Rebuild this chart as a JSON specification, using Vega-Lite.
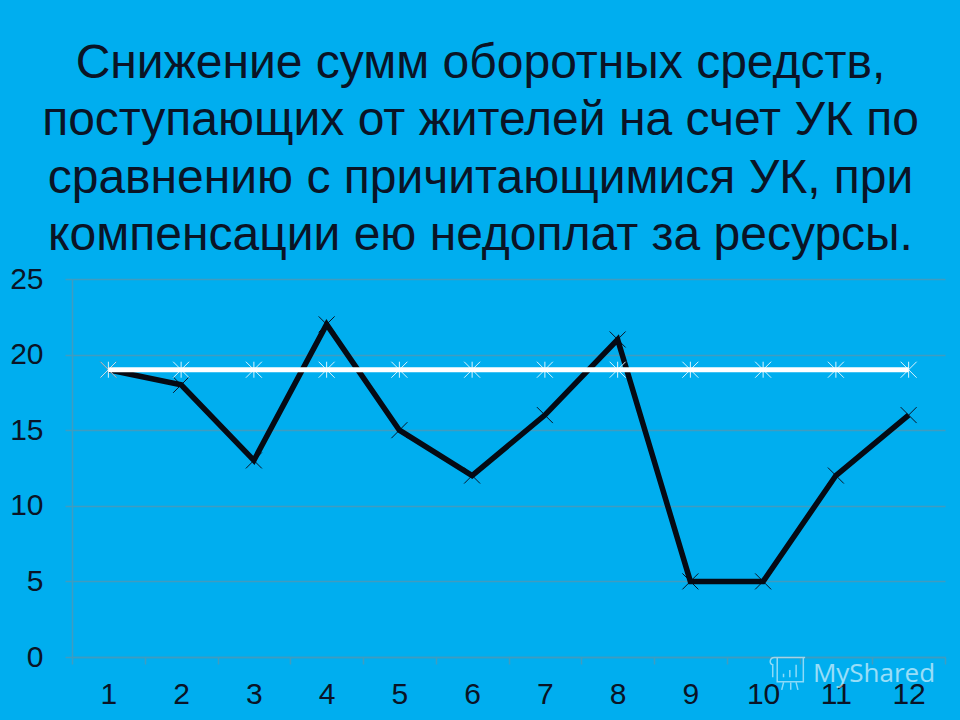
{
  "$schema": "https://vega.github.io/schema/vega-lite/v6.json",
  "autosize": "none",
  "padding": {"left": 72, "top": 279, "right": 15, "bottom": 63},
  "width": 873,
  "height": 378,
  "background": "#00aeef",
  "config": {"view": {"stroke": null}},
  "title": {
    "text": [
      "Снижение сумм оборотных средств,",
      "поступающих от жителей на счет УК по",
      "сравнению с причитающимися УК, при",
      "компенсации ею недоплат за ресурсы."
    ],
    "font": "Liberation Sans",
    "fontSize": 48,
    "fontWeight": "normal",
    "color": "#0a1426",
    "lineHeight": 57.5,
    "anchor": "middle",
    "dx": -28,
    "offset": 4
  },
  "datasets": {
    "series": [
      {"month": 1, "series": "fact", "value": 19},
      {"month": 2, "series": "fact", "value": 18},
      {"month": 3, "series": "fact", "value": 13},
      {"month": 4, "series": "fact", "value": 22},
      {"month": 5, "series": "fact", "value": 15},
      {"month": 6, "series": "fact", "value": 12},
      {"month": 7, "series": "fact", "value": 16},
      {"month": 8, "series": "fact", "value": 21},
      {"month": 9, "series": "fact", "value": 5},
      {"month": 10, "series": "fact", "value": 5},
      {"month": 11, "series": "fact", "value": 12},
      {"month": 12, "series": "fact", "value": 16},
      {"month": 1, "series": "due", "value": 19},
      {"month": 2, "series": "due", "value": 19},
      {"month": 3, "series": "due", "value": 19},
      {"month": 4, "series": "due", "value": 19},
      {"month": 5, "series": "due", "value": 19},
      {"month": 6, "series": "due", "value": 19},
      {"month": 7, "series": "due", "value": 19},
      {"month": 8, "series": "due", "value": 19},
      {"month": 9, "series": "due", "value": 19},
      {"month": 10, "series": "due", "value": 19},
      {"month": 11, "series": "due", "value": 19},
      {"month": 12, "series": "due", "value": 19}
    ]
  },
  "data": {"name": "series"},
  "encoding": {
    "x": {
      "field": "month",
      "type": "ordinal",
      "title": null,
      "scale": {"type": "band", "paddingInner": 0, "paddingOuter": 0},
      "axis": {
        "labelAngle": 0,
        "labelFont": "Liberation Sans",
        "labelFontSize": 30,
        "labelColor": "#0a1426",
        "labelPadding": 15,
        "tickColor": "#3f9cc0",
        "domainColor": "#3f9cc0",
        "tickWidth": 1.5,
        "domainWidth": 1.5,
        "tickSize": 7,
        "tickBand": "extent",
        "grid": false
      }
    },
    "y": {
      "field": "value",
      "type": "quantitative",
      "title": null,
      "scale": {"domain": [0, 25], "nice": false},
      "axis": {
        "values": [0, 5, 10, 15, 20, 25],
        "labelFont": "Liberation Sans",
        "labelFontSize": 30,
        "labelColor": "#0a1426",
        "labelPadding": 22,
        "tickColor": "#3f9cc0",
        "domainColor": "#3f9cc0",
        "gridColor": "#3f9cc0",
        "gridWidth": 1.5,
        "tickWidth": 1.5,
        "domainWidth": 1.5,
        "tickSize": 7
      }
    }
  },
  "layer": [
    {
      "transform": [{"filter": "datum.series == 'fact'"}],
      "mark": {"type": "point", "shape": "M-1,-1L1,1M-1,1L1,-1", "size": 256, "stroke": "#0a1426", "strokeWidth": 1, "fill": null, "opacity": 1}
    },
    {
      "transform": [{"filter": "datum.series == 'fact'"}],
      "mark": {"type": "line", "color": "#050a14", "strokeWidth": 5.5, "strokeJoin": "miter"}
    },
    {
      "transform": [{"filter": "datum.series == 'due'"}],
      "mark": {"type": "point", "shape": "M-1,-1L1,1M-1,1L1,-1M0,-1L0,1", "size": 256, "stroke": "#d8f4ff", "strokeWidth": 1, "fill": null, "opacity": 1}
    },
    {
      "transform": [{"filter": "datum.series == 'due'"}],
      "mark": {"type": "line", "color": "#ffffff", "strokeWidth": 5}
    },
    {
      "data": {"values": [{"month": 10, "value": -1.1}]},
      "mark": {"type": "point", "xOffset": 24, "shape": "M-0.7,-0.9H1M-0.55,-0.9V0.45H0.9V-0.9M-0.7,-0.9C-1,-0.9 -1,-0.5 -0.8,-0.5V0.2M-0.2,0.2V0M0.15,0.2V-0.2M0.5,0.2V-0.5M-0.2,0.5L-0.3,0.9M0.2,0.5L0.2,0.9M0.5,0.5L0.6,0.9", "size": 1296, "stroke": "#ffffff", "strokeWidth": 1.5, "fill": null, "opacity": 0.55}
    },
    {
      "data": {"values": [{"month": 11, "value": -1.1, "label": "MyShared"}]},
      "mark": {"type": "text", "align": "left", "baseline": "middle", "dx": -23, "font": "Open Sans", "fontSize": 26, "color": "#ffffff", "opacity": 0.6},
      "encoding": {"text": {"field": "label"}}
    }
  ]
}
